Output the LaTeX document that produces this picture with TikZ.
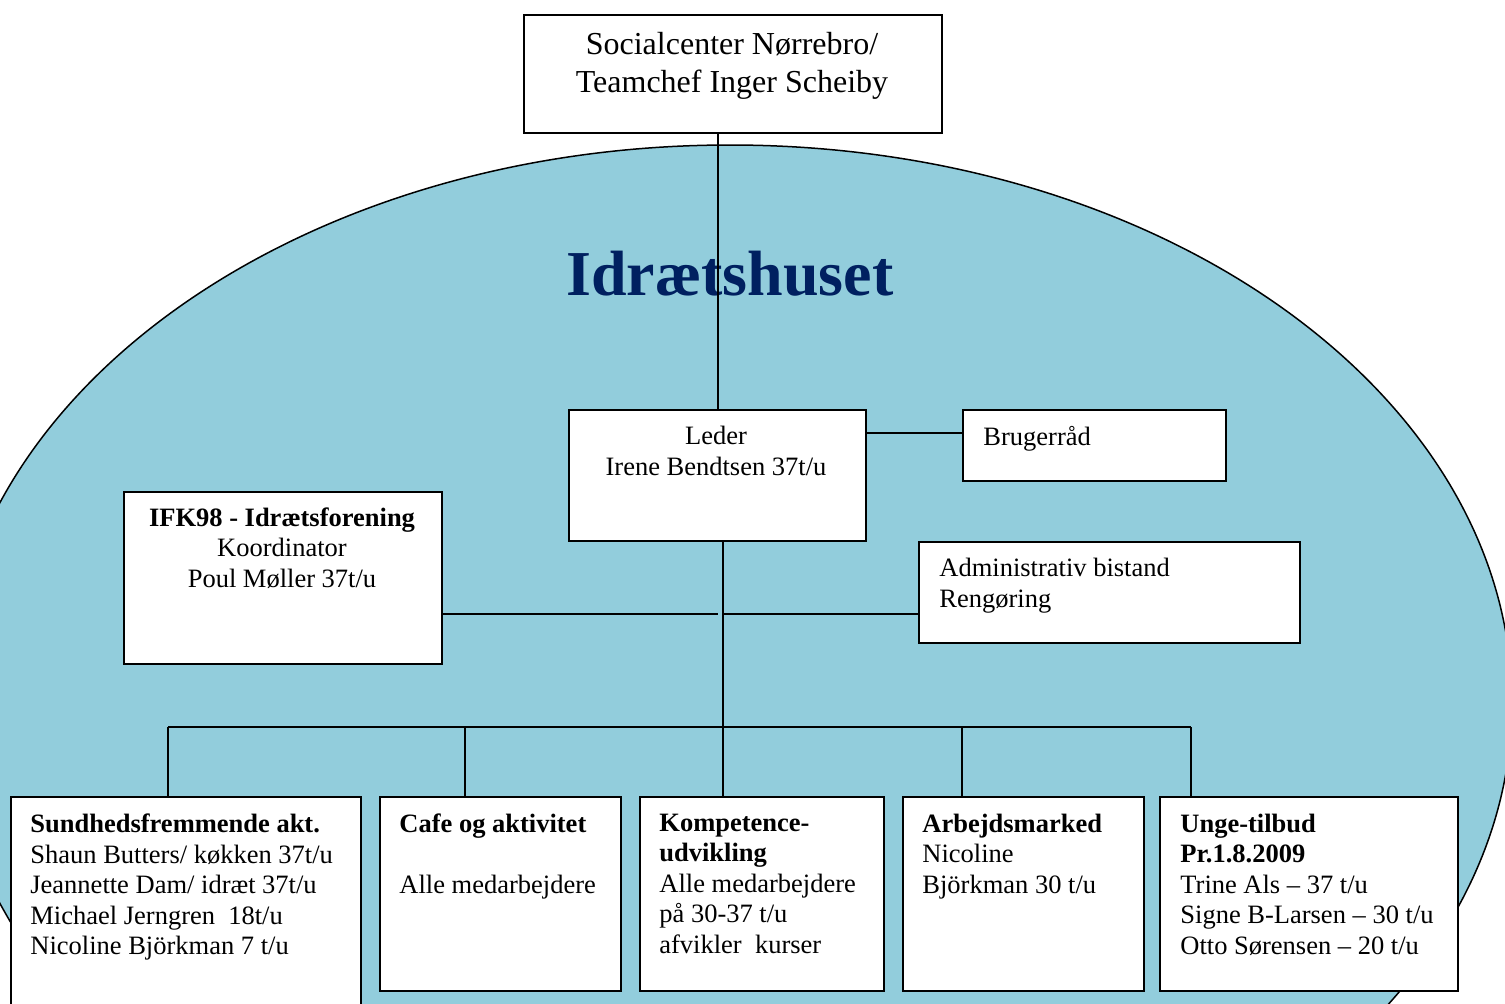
\documentclass[tikz,border=0pt]{standalone}
\usepackage{fontspec}
\setmainfont{Liberation Serif}
\definecolor{ellfill}{HTML}{92CDDC}
\definecolor{titleblue}{HTML}{002060}
\tikzset{
  box/.style={draw=black, line width=1pt, fill=white, rectangle, inner sep=0pt, anchor=north west},
  conn/.style={draw=black, line width=1pt},
  bodytxt/.style={font=\fontsize{13.25pt}{15.25pt}\selectfont, inner sep=0pt, text=black},
  toptxt/.style={font=\fontsize{16pt}{19pt}\selectfont, inner sep=0pt, text=black},
  lefttxt/.style={bodytxt, align=left, anchor=north west},
  midtxt/.style={bodytxt, align=center, anchor=north},
}
\begin{document}
\begin{tikzpicture}[x=0.5pt, y=-0.5pt]
\useasboundingbox (0,0) rectangle (1505,1003);
\clip (0,0) rectangle (1505,1003);
% background oval
\draw[fill=ellfill, draw=black, line width=0.75pt] (730,703) ellipse [x radius=391pt, y radius=279pt];
% title
\node[font=\bfseries\fontsize{32pt}{36pt}\selectfont, text=titleblue, anchor=base, inner sep=0pt] (title) at (730,295) {Idrætshuset};

% boxes
\node[box, minimum width=209pt, minimum height=59pt] (top) at (522.5,13.5) {};
\node[box, minimum width=148.5pt, minimum height=65.5pt] (leader) at (567.5,408.5) {};
\node[box, minimum width=131.5pt, minimum height=35.5pt] (bruger) at (961.5,408.5) {};
\node[box, minimum width=159pt, minimum height=86pt] (ifk) at (122.5,490.5) {};
\node[box, minimum width=190.5pt, minimum height=50.5pt] (adm) at (917.5,540.5) {};
\node[box, minimum width=175pt, minimum height=115pt] (sund) at (9.5,795.5) {};
\node[box, minimum width=120.5pt, minimum height=97pt] (cafe) at (378.5,795.5) {};
\node[box, minimum width=122pt, minimum height=97pt] (komp) at (638.5,795.5) {};
\node[box, minimum width=120.5pt, minimum height=97pt] (arb) at (901.5,795.5) {};
\node[box, minimum width=149pt, minimum height=97pt] (unge) at (1158.5,795.5) {};

% helper coordinates
\coordinate (xa) at (718,0);
\coordinate (xb) at (723,0);
\coordinate (yb) at (0,433);
\coordinate (ifkend) at (718,614);
\coordinate (admstart) at (723,614);
\coordinate (busL) at (168,727);
\coordinate (busC) at (465,727);
\coordinate (busD) at (962,727);
\coordinate (busR) at (1191,727);

% connectors
\draw[conn] (top.south -| xa) -- (leader.north -| xa);
\draw[conn] (leader.east |- yb) -- (bruger.west |- yb);
\draw[conn] (leader.south -| xb) -- (komp.north -| xb);
\draw[conn] (ifk.east |- ifkend) -- (ifkend);
\draw[conn] (admstart) -- (adm.west |- admstart);
\draw[conn] (busL) -- (busR);
\draw[conn] (busL) -- (sund.north -| busL);
\draw[conn] (busC) -- (cafe.north -| busC);
\draw[conn] (busD) -- (arb.north -| busD);
\draw[conn] (busR) -- (unge.north -| busR);

% texts
\node[toptxt, align=center, anchor=north] (ttop) at (732,32) {Socialcenter Nørrebro/\\Teamchef Inger Scheiby};
\node[midtxt] (tleader) at (716,426) {Leder\\Irene Bendtsen 37t/u};
\node[lefttxt] (tbruger) at (983,426) {Brugerråd};
\node[midtxt] (tifk) at (282,507) {\textbf{IFK98 - Idrætsforening}\\Koordinator\\Poul Møller 37t/u};
\node[lefttxt] (tadm) at (939,558) {Administrativ bistand\\Rengøring};
\node[lefttxt] (tsund) at (30,813.5) {\textbf{Sundhedsfremmende akt.}\\Shaun Butters/ køkken 37t/u\\Jeannette Dam/ idræt 37t/u\\Michael Jerngren\ \ 18t/u\\Nicoline Björkman 7 t/u};
\node[lefttxt] (tcafe) at (399,813.5) {\textbf{Cafe og aktivitet}\\[15.25pt]Alle medarbejdere};
\node[lefttxt] (tkomp) at (659,813.5) {\textbf{Kompetence-}\\\textbf{udvikling}\\Alle medarbejdere\\på 30-37 t/u\\afvikler\ \ kurser};
\node[lefttxt] (tarb) at (922,813.5) {\textbf{Arbejdsmarked}\\Nicoline\\Björkman 30 t/u};
\node[lefttxt] (tunge) at (1180,813.5) {\textbf{Unge-tilbud}\\\textbf{Pr.1.8.2009}\\Trine Als – 37 t/u\\Signe B-Larsen – 30 t/u\\Otto Sørensen – 20 t/u};
\end{tikzpicture}
\end{document}
